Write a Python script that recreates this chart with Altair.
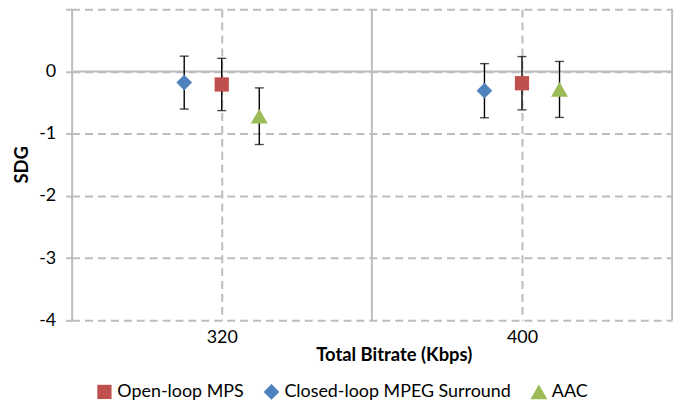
import altair as alt
import pandas as pd

bitrates = [320, 400]
series = ["Open-loop MPS", "Closed-loop MPEG Surround", "AAC"]
open_loop = [-0.21, -0.19]
open_loop_err = [0.42, 0.428]
closed_loop = [-0.18, -0.31]
closed_loop_err = [0.425, 0.435]
aac = [-0.72, -0.29]
aac_err = [0.455, 0.45]
y_ticks = [-4, -3, -2, -1, 0, 1]
x_ticks = [320, 400]
boundaries = [360, 440]

rows = []
for name, vals, errs in [(series[0], open_loop, open_loop_err),
                         (series[1], closed_loop, closed_loop_err),
                         (series[2], aac, aac_err)]:
    for b, v, e in zip(bitrates, vals, errs):
        rows.append({"series": name, "bitrate": b, "sdg": v, "lo": v - e, "hi": v + e})
df = pd.DataFrame(rows)

FONT = "Lato"
GRID = "#BDBDBD"
FS = 18

xscale = alt.Scale(domain=[280, 440], nice=False, zero=False)
yscale = alt.Scale(domain=[-4, 1], nice=False, zero=False)

base = alt.Chart(df).transform_calculate(
    xpos="datum.bitrate + (datum.series == 'AAC' ? 10 : (datum.series == 'Open-loop MPS' ? 0 : -10))"
)

x_axis = alt.Axis(values=x_ticks, grid=True, gridDash=[8, 5], gridColor=GRID, gridWidth=2,
                  domain=False, ticks=False, labelPadding=8, labelFontSize=FS,
                  labelFont=FONT, labelColor="#000000",
                  title="Total Bitrate (Kbps)", titleFont=FONT, titleFontSize=18.5,
                  titleFontWeight="bold", titleColor="#000000",
                  titleX=324, titleY=34, titleBaseline="middle", titleAlign="center")
y_axis = alt.Axis(values=y_ticks, grid=True, gridDash=[8, 5], gridColor=GRID, gridWidth=2,
                  domain=True, domainColor=GRID, domainWidth=2,
                  ticks=True, tickColor=GRID, tickSize=6, tickWidth=2,
                  labelPadding=10, labelFontSize=FS, labelFont=FONT, labelColor="#000000",
                  labelExpr="datum.value == 1 ? '' : toString(datum.value)",
                  title="SDG", titleFont=FONT, titleFontSize=18.5, titleFontWeight="bold",
                  titleColor="#000000", titleAngle=-90, titleX=-50, titleY=156,
                  titleAlign="center", titleBaseline="middle")

axes_layer = base.mark_point(opacity=0).encode(
    x=alt.X("xpos:Q", scale=xscale, axis=x_axis),
    y=alt.Y("sdg:Q", scale=yscale, axis=y_axis),
)

zero_rule = alt.Chart(pd.DataFrame({"z": [0]})).mark_rule(color=GRID, strokeWidth=2).encode(
    y=alt.Y("z:Q", scale=yscale)
)
bound_rules = alt.Chart(pd.DataFrame({"b": boundaries})).mark_rule(color=GRID, strokeWidth=2).encode(
    x=alt.X("b:Q", scale=xscale)
)

err_rule = base.mark_rule(color="#000000", strokeWidth=1.4).encode(
    x=alt.X("xpos:Q", scale=xscale),
    y=alt.Y("lo:Q", scale=yscale),
    y2="hi:Q",
)
cap_lo = base.mark_tick(orient="horizontal", color="#000000", thickness=1.4, size=9).encode(
    x=alt.X("xpos:Q", scale=xscale), y=alt.Y("lo:Q", scale=yscale)
)
cap_hi = base.mark_tick(orient="horizontal", color="#000000", thickness=1.4, size=9).encode(
    x=alt.X("xpos:Q", scale=xscale), y=alt.Y("hi:Q", scale=yscale)
)

points = base.mark_point(filled=True, opacity=1).encode(
    x=alt.X("xpos:Q", scale=xscale),
    y=alt.Y("sdg:Q", scale=yscale),
    color=alt.Color("series:N", sort=series,
                    scale=alt.Scale(domain=series, range=["#C0504D", "#4F81BD", "#9BBB59"]),
                    legend=alt.Legend(title=None, orient="none", legendX=24, legendY=376,
                                      direction="horizontal", columns=3, columnPadding=18,
                                      labelFont=FONT, labelFontSize=FS, labelColor="#000000",
                                      labelLimit=0, symbolSize=150, labelOffset=4,
                                      symbolStrokeWidth=0)),
    shape=alt.Shape("series:N", sort=series,
                    scale=alt.Scale(domain=series, range=["square", "diamond", "triangle-up"])),
    size=alt.Size("series:N", sort=series,
                  scale=alt.Scale(domain=series, range=[205, 290, 250]), legend=None),
)

chart = alt.layer(axes_layer, zero_rule, bound_rules, err_rule, cap_lo, cap_hi, points).properties(
    width=604, height=313, autosize="none",
    padding={"left": 64, "top": 0, "right": 18, "bottom": 86},
).configure_view(strokeWidth=0)

chart.save("out.html", embed_options={"renderer": "svg", "actions": False})
